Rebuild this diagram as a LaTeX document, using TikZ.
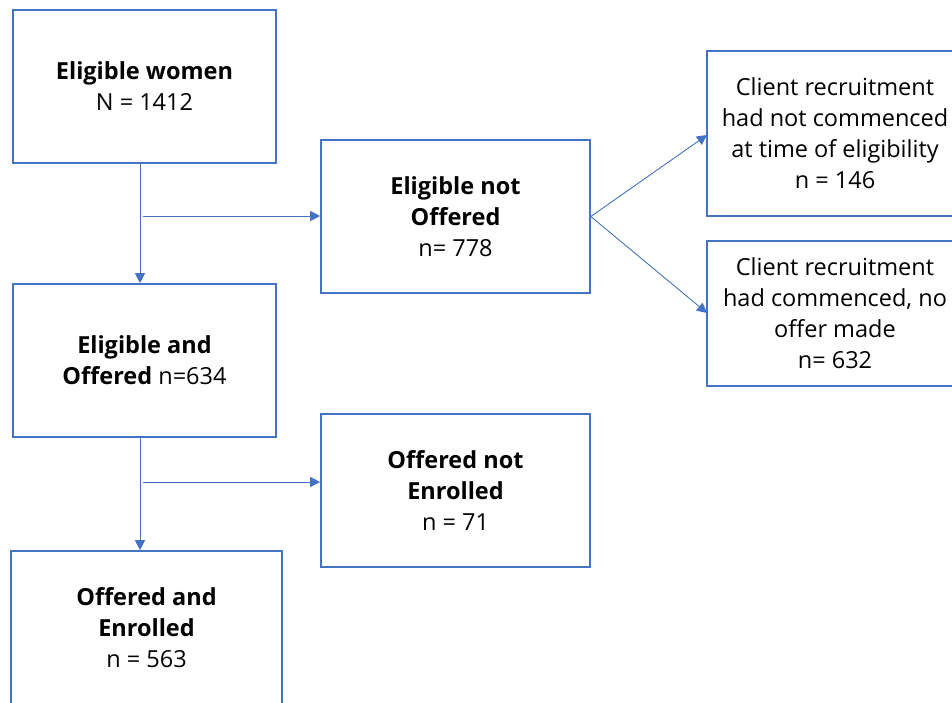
\documentclass[tikz,border=0pt]{standalone}
\usepackage{fontspec}
\setmainfont{Open Sans}
\usetikzlibrary{arrows.meta}
\definecolor{boxblue}{HTML}{4472C4}
\tikzset{
  box/.style={draw=boxblue, line width=1.6pt, rectangle, align=center, inner sep=0pt,
    font=\fontsize{23.5}{31}\selectfont, text=black},
  conn/.style={draw=boxblue, line width=0.9pt, -{Triangle[length=10pt,width=10pt]}},
  link/.style={draw=boxblue, line width=0.9pt}
}
\begin{document}
\begin{tikzpicture}[x=1pt,y=-1pt]
\useasboundingbox (0,0) rectangle (952,702);
\clip (0,0) rectangle (952,702);
\node[box, minimum width=263pt, minimum height=153pt] (A) at (144.5,86.5)
  {\textbf{Eligible women}\\N = 1412};
\node[box, minimum width=269pt, minimum height=153pt] (B) at (455.5,216.5)
  {\textbf{Eligible not}\\\textbf{Offered}\\n= 778};
\node[box, minimum width=263pt, minimum height=153pt] (C) at (144.5,360.5)
  {\textbf{Eligible and}\\\textbf{Offered} n=634};
\node[box, minimum width=269pt, minimum height=153pt] (D) at (455.5,490.5)
  {\textbf{Offered not}\\\textbf{Enrolled}\\n = 71};
\node[box, minimum width=271pt, minimum height=154pt] (E) at (146.5,628)
  {\textbf{Offered and}\\\textbf{Enrolled}\\n = 563};
\node[box, minimum width=256pt, minimum height=165pt] (F) at (835,133.5)
  {Client recruitment\\had not commenced\\at time of eligibility\\n = 146};
\node[box, minimum width=256pt, minimum height=145pt] (G) at (835,313.5)
  {Client recruitment\\had commenced, no\\offer made\\n= 632};

\coordinate (j1) at (140,216);
\coordinate (j1r) at (143,216);
\coordinate (j2) at (140,482);
\coordinate (j2r) at (143,482);
\draw[conn] (A.south -| j1) -- (C.north -| j1);
\draw[conn] (j1r) -- (B.west |- j1r);
\draw[conn] (C.south -| j2) -- (E.north -| j2);
\draw[conn] (j2r) -- (D.west |- j2r);
\coordinate (Ft) at (707,135);
\coordinate (Gt) at (707,313);
\draw[conn] (B.east) -- (Ft);
\draw[conn] (B.east) -- (Gt);
\end{tikzpicture}
\end{document}
